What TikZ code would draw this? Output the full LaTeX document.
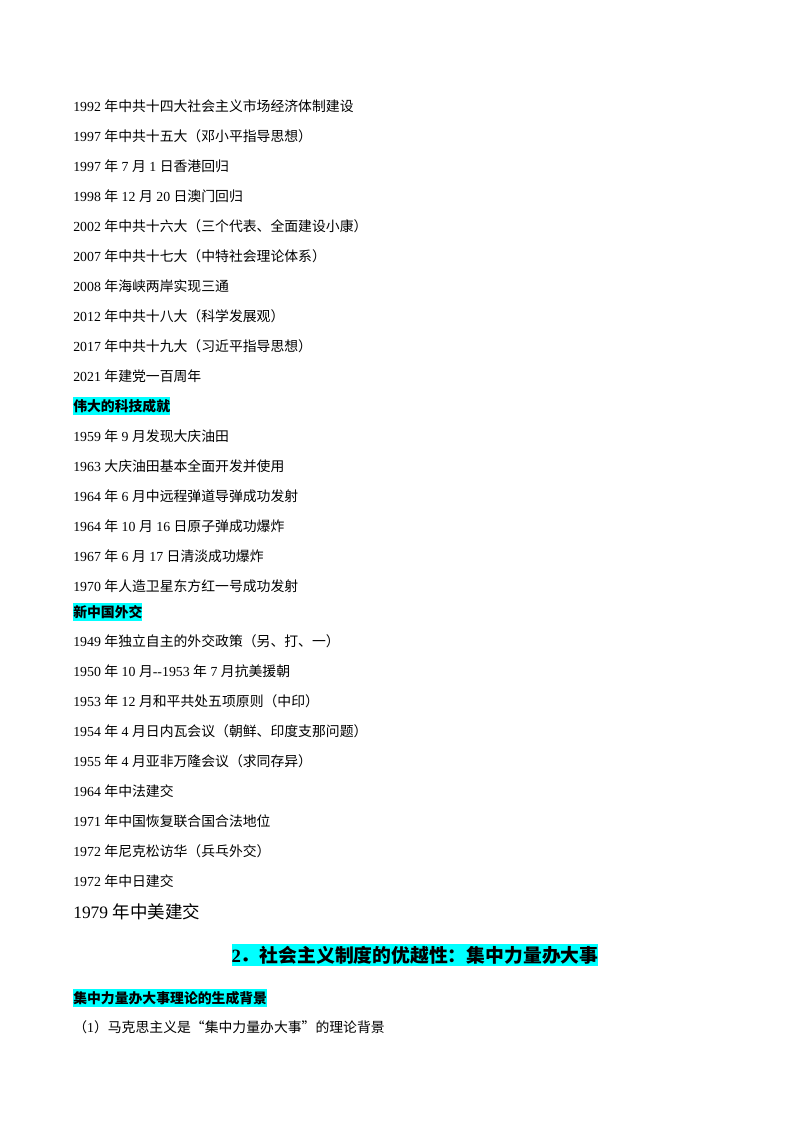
\documentclass[tikz,border=0pt]{standalone}
\usepackage{fontspec}
\setmainfont{Liberation Serif}
\newfontfamily\cjk{Noto Sans CJK SC}
\newcommand\zh[1]{{\cjk #1}}
\definecolor{hlc}{RGB}{0,255,255}
\begin{document}
\begin{tikzpicture}[x=0.744pt,y=-0.744pt,
  ln/.style={anchor=west,inner sep=0pt,font=\fontsize{10.3}{12}\selectfont},
  hl/.style={anchor=west,inner xsep=0pt,inner ysep=1.5pt,fill=hlc,font=\fontsize{10.3}{12}\selectfont\bfseries}]
\useasboundingbox (0,0) rectangle (800,1132);
\node[ln] (l1) at (73,106) {1992 \zh{年中共十四大社会主义市场经济体制建设}};
\node[ln] (l2) at (73,136) {1997 \zh{年中共十五大（邓小平指导思想）}};
\node[ln] (l3) at (73,166) {1997 \zh{年} 7 \zh{月} 1 \zh{日香港回归}};
\node[ln] (l4) at (73,196) {1998 \zh{年} 12 \zh{月} 20 \zh{日澳门回归}};
\node[ln] (l5) at (73,226) {2002 \zh{年中共十六大（三个代表、全面建设小康）}};
\node[ln] (l6) at (73,256) {2007 \zh{年中共十七大（中特社会理论体系）}};
\node[ln] (l7) at (73,286) {2008 \zh{年海峡两岸实现三通}};
\node[ln] (l8) at (73,316) {2012 \zh{年中共十八大（科学发展观）}};
\node[ln] (l9) at (73,346) {2017 \zh{年中共十九大（习近平指导思想）}};
\node[ln] (l10) at (73,376) {2021 \zh{年建党一百周年}};
\node[hl] (h1) at (73,406) {\zh{伟大的科技成就}};
\node[ln] (m1) at (73,436) {1959 \zh{年} 9 \zh{月发现大庆油田}};
\node[ln] (m2) at (73,466) {1963 \zh{大庆油田基本全面开发并使用}};
\node[ln] (m3) at (73,496) {1964 \zh{年} 6 \zh{月中远程弹道导弹成功发射}};
\node[ln] (m4) at (73,526) {1964 \zh{年} 10 \zh{月} 16 \zh{日原子弹成功爆炸}};
\node[ln] (m5) at (73,556) {1967 \zh{年} 6 \zh{月} 17 \zh{日清淡成功爆炸}};
\node[ln] (m6) at (73,586) {1970 \zh{年人造卫星东方红一号成功发射}};
\node[hl] (h2) at (73,612) {\zh{新中国外交}};
\node[ln] (n1) at (73,641) {1949 \zh{年独立自主的外交政策（另、打、一）}};
\node[ln] (n2) at (73,671) {1950 \zh{年} 10 \zh{月}-{}-1953 \zh{年} 7 \zh{月抗美援朝}};
\node[ln] (n3) at (73,701) {1953 \zh{年} 12 \zh{月和平共处五项原则（中印）}};
\node[ln] (n4) at (73,731) {1954 \zh{年} 4 \zh{月日内瓦会议（朝鲜、印度支那问题）}};
\node[ln] (n5) at (73,761) {1955 \zh{年} 4 \zh{月亚非万隆会议（求同存异）}};
\node[ln] (n6) at (73,791) {1964 \zh{年中法建交}};
\node[ln] (n7) at (73,821) {1971 \zh{年中国恢复联合国合法地位}};
\node[ln] (n8) at (73,851) {1972 \zh{年尼克松访华（兵乓外交）}};
\node[ln] (n9) at (73,881) {1972 \zh{年中日建交}};
\node[ln,font=\fontsize{13}{15}\selectfont] (n10) at (73,912) {1979 \zh{年中美建交}};
\node[hl,anchor=center,font=\fontsize{14}{16}\selectfont\bfseries] (t) at (415,955) {2\zh{．社会主义制度的优越性：集中力量办大事}};
\node[hl] (h3) at (73,998) {\zh{集中力量办大事理论的生成背景}};
\node[ln] (p1) at (73,1027) {\zh{（}1\zh{）马克思主义是“集中力量办大事”的理论背景}};
\end{tikzpicture}
\end{document}
